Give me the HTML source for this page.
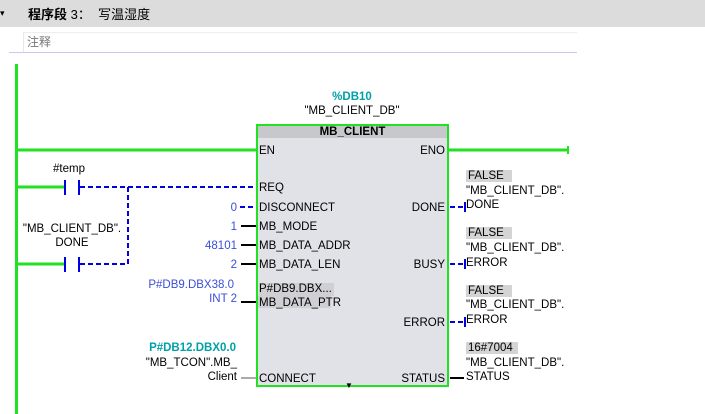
<!DOCTYPE html>
<html><head><meta charset="utf-8"><style>
body{margin:0;width:705px;height:414px;background:#fff;position:relative;overflow:hidden;font-family:"Liberation Sans","Noto Sans CJK SC",sans-serif;font-size:11.5px;color:#000}
.a{position:absolute;white-space:nowrap;line-height:13px;margin-top:1px}
.r{text-align:right}
.b{color:#3a4fd6}
.t{color:#00a0a8;font-weight:bold}
.g{background:#d4d4d4;padding:0 2px}
</style></head><body>
<div class="a" style="left:0;top:-1px;width:705px;height:27px;background:#dcdcdc"></div>
<div class="a" style="left:0;top:6px;font-size:9px">▾</div>
<div class="a" style="left:28px;top:7px;font-size:13px"><b>程序段</b> 3： &nbsp;写温湿度</div>
<div class="a" style="left:23px;top:31px;width:554px;height:20px;border-left:1px solid #e8e8e8;border-top:1px solid #eee;color:#777;font-size:12px;line-height:18px;padding-left:3px;box-sizing:border-box">注释</div>
<div class="a" style="left:9px;top:52px;width:568px;height:1px;background:#c9c9ee;margin-top:0"></div>

<div class="a" style="left:15px;top:64px;width:3px;height:350px;background:#22e022;margin-top:0"></div>

<div class="a t" style="left:322px;top:90px;width:60px;text-align:center">%DB10</div>
<div class="a" style="left:292px;top:104px;width:120px;text-align:center">"MB_CLIENT_DB"</div>

<svg style="position:absolute;left:0;top:0" width="705" height="414">
<g stroke="#22e022" stroke-width="3" fill="none">
<line x1="17" y1="150" x2="256" y2="150"/>
<line x1="449" y1="150" x2="568" y2="150"/>
<line x1="17" y1="187" x2="65" y2="187"/>
<line x1="17" y1="264" x2="65" y2="264"/>
</g>
<line x1="568" y1="146" x2="568" y2="154" stroke="#22e022" stroke-width="2"/>
<g stroke="#0000e0" stroke-width="2">
<line x1="65" y1="180" x2="65" y2="195"/><line x1="79" y1="180" x2="79" y2="195"/>
<line x1="65" y1="257" x2="65" y2="272"/><line x1="79" y1="257" x2="79" y2="272"/>
</g>
<g stroke="#0000e0" stroke-width="2" stroke-dasharray="5,3" fill="none">
<line x1="80" y1="187" x2="256" y2="187"/>
<line x1="80" y1="264" x2="128" y2="264"/>
<line x1="128" y1="187" x2="128" y2="264"/>
<line x1="240" y1="207" x2="256" y2="207"/>
<line x1="450" y1="207" x2="464" y2="207"/>
<line x1="450" y1="264" x2="464" y2="264"/>
<line x1="450" y1="322" x2="464" y2="322"/>
</g>
<g stroke="#0000e0" stroke-width="2"><line x1="465" y1="202" x2="465" y2="212"/><line x1="465" y1="259" x2="465" y2="269"/><line x1="465" y1="317" x2="465" y2="327"/></g>
<g stroke="#000" stroke-width="2">
<line x1="241" y1="226" x2="256" y2="226"/>
<line x1="241" y1="245" x2="256" y2="245"/>
<line x1="241" y1="264" x2="256" y2="264"/>
<line x1="241" y1="302" x2="256" y2="302"/>
<line x1="450" y1="378" x2="464" y2="378"/>
</g>
<line x1="241" y1="378" x2="256" y2="378" stroke="#aaa" stroke-width="2"/>
</svg>

<div class="a" style="left:256px;top:124px;width:189px;height:259px;border:2px solid #22e022;background:#e1e1e8;margin-top:0"></div>
<div class="a" style="left:258px;top:126px;width:189px;height:12px;background:#c8c8cc;text-align:center;font-weight:bold;line-height:12px;margin-top:0">MB_CLIENT</div>
<div class="a" style="left:258px;top:296px;width:73px;height:12px;background:#d0d0d4;margin-top:0"></div>
<div class="a" style="left:345px;top:378px;font-size:8px">▼</div>

<div class="a" style="left:259px;top:144px">EN</div>
<div class="a" style="left:259px;top:181px">REQ</div>
<div class="a" style="left:259px;top:201px">DISCONNECT</div>
<div class="a" style="left:259px;top:220px">MB_MODE</div>
<div class="a" style="left:259px;top:239px">MB_DATA_ADDR</div>
<div class="a" style="left:259px;top:258px">MB_DATA_LEN</div>
<div class="a" style="left:259px;top:282px;background:#d0d0d4;padding-right:2px">P#DB9.DBX...</div>
<div class="a" style="left:259px;top:296px">MB_DATA_PTR</div>
<div class="a" style="left:259px;top:372px">CONNECT</div>
<div class="a r" style="left:380px;top:144px;width:65px">ENO</div>
<div class="a r" style="left:380px;top:201px;width:65px">DONE</div>
<div class="a r" style="left:380px;top:258px;width:65px">BUSY</div>
<div class="a r" style="left:380px;top:316px;width:65px">ERROR</div>
<div class="a r" style="left:380px;top:372px;width:65px">STATUS</div>

<div class="a" style="left:53px;top:162px">#temp</div>
<div class="a" style="left:22px;top:222px;width:100px;text-align:center">"MB_CLIENT_DB".</div>
<div class="a" style="left:22px;top:236px;width:100px;text-align:center">DONE</div>

<div class="a r b" style="left:180px;top:201px;width:57px">0</div>
<div class="a r b" style="left:180px;top:220px;width:57px">1</div>
<div class="a r b" style="left:180px;top:239px;width:57px">48101</div>
<div class="a r b" style="left:180px;top:258px;width:57px">2</div>
<div class="a r b" style="left:130px;top:278px;width:104px">P#DB9.DBX38.0</div>
<div class="a r b" style="left:130px;top:292px;width:107px">INT 2</div>
<div class="a r t" style="left:130px;top:341px;width:106px">P#DB12.DBX0.0</div>
<div class="a r" style="left:130px;top:356px;width:107px">"MB_TCON".MB_</div>
<div class="a r" style="left:130px;top:370px;width:107px">Client</div>

<div class="a" style="left:466px;top:169px"><span class="g">FALSE&nbsp;&nbsp;</span></div>
<div class="a" style="left:466px;top:184px">"MB_CLIENT_DB".</div>
<div class="a" style="left:466px;top:198px">DONE</div>
<div class="a" style="left:466px;top:226px"><span class="g">FALSE&nbsp;&nbsp;</span></div>
<div class="a" style="left:466px;top:241px">"MB_CLIENT_DB".</div>
<div class="a" style="left:466px;top:256px">ERROR</div>
<div class="a" style="left:466px;top:284px"><span class="g">FALSE&nbsp;&nbsp;</span></div>
<div class="a" style="left:466px;top:298px">"MB_CLIENT_DB".</div>
<div class="a" style="left:466px;top:313px">ERROR</div>
<div class="a" style="left:466px;top:341px"><span class="g">16#7004&nbsp;</span></div>
<div class="a" style="left:466px;top:356px">"MB_CLIENT_DB".</div>
<div class="a" style="left:466px;top:370px">STATUS</div>
</body></html>
